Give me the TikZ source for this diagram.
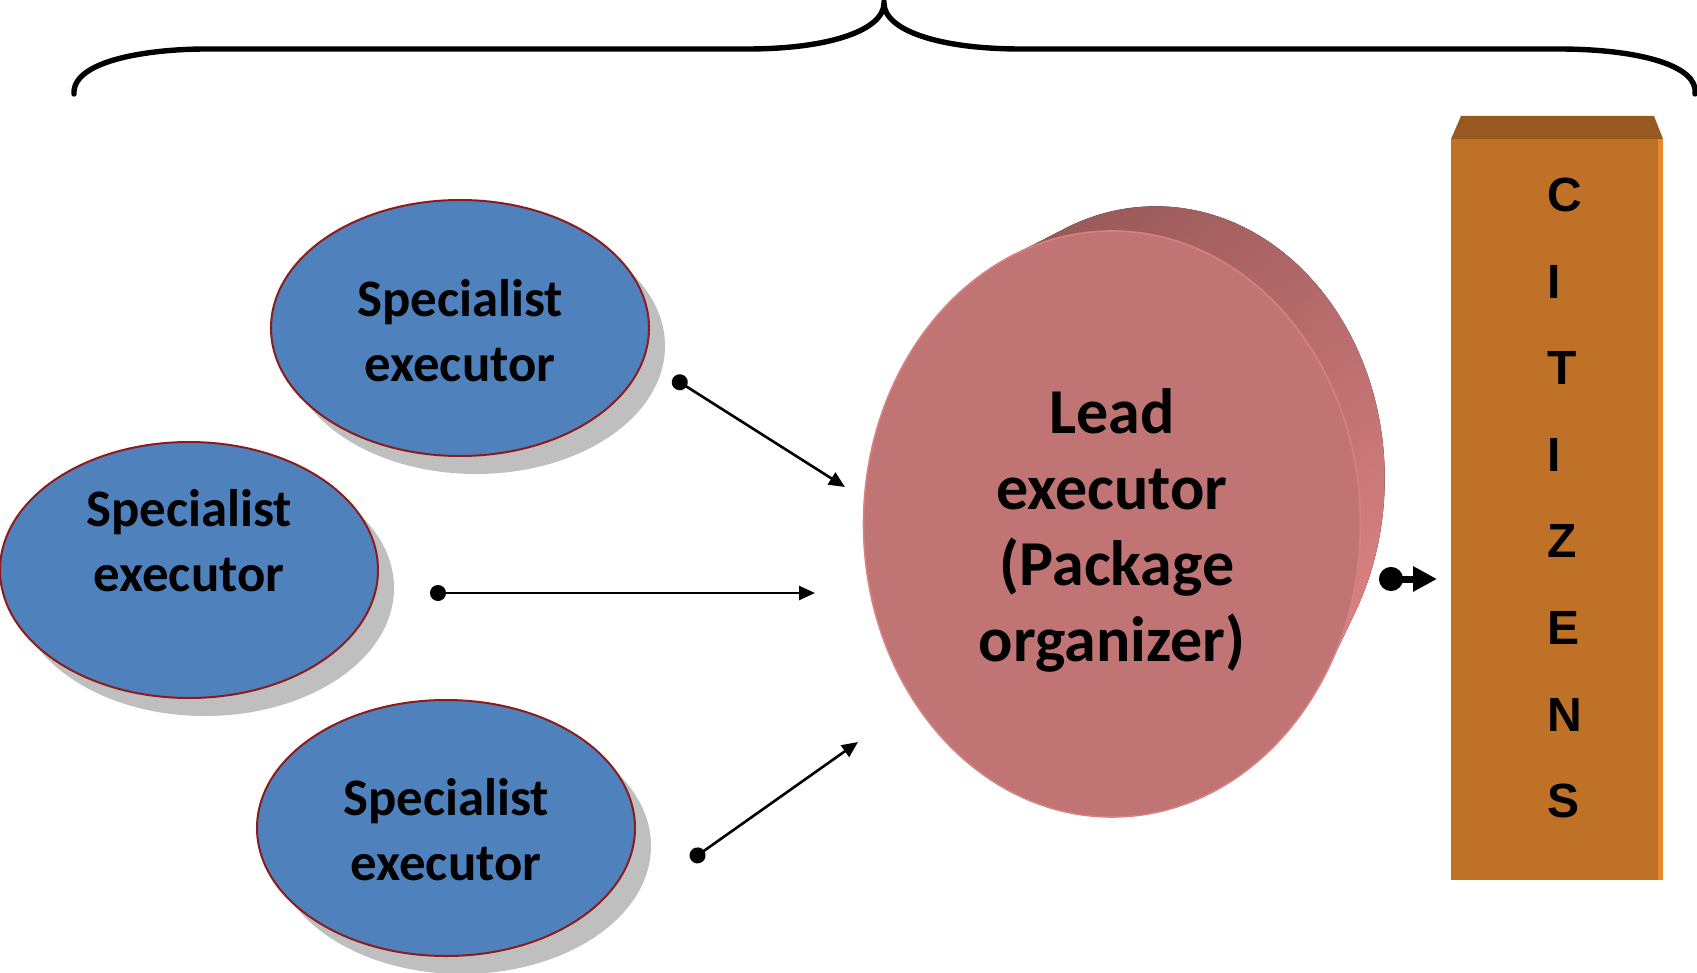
\documentclass[tikz,border=0pt]{standalone}
\usepackage{fontspec}
\setmainfont{Carlito}
\newfontfamily\citfont{Liberation Sans}
\usetikzlibrary{shapes.geometric,arrows.meta,shadows}
\definecolor{specblue}{HTML}{4F81BD}
\definecolor{rimred}{HTML}{8C1C1C}
\definecolor{leadface}{HTML}{C07474}
\definecolor{leaddark}{HTML}{985858}
\definecolor{leadlight}{HTML}{E28686}
\definecolor{citbox}{HTML}{C07128}
\definecolor{cittop}{HTML}{97591F}
\definecolor{citedge}{HTML}{E8892E}

\begin{document}
\begin{tikzpicture}[x=0.5pt,y=-0.5pt,
    specialist/.style={ellipse,draw=rimred,line width=1pt,fill=specblue,
      minimum width=189pt,minimum height=128pt,
      drop shadow={shadow xshift=8pt,shadow yshift=-9pt,fill=black!25,opacity=1}},
    spectext/.style={align=center,font=\bfseries\fontsize{26.4}{32.5}\selectfont},
    lead/.style={ellipse,fill=leadface,draw=leadlight!70!leadface,line width=0.8pt,
      minimum width=248.5pt,minimum height=293pt,inner sep=0pt,align=center,
      font=\bfseries\fontsize{32}{38}\selectfont},
    leadside/.style={shading=axis,top color=leaddark,bottom color=leadlight,shading angle=35},
    letter/.style={anchor=west,inner sep=0pt,font=\citfont\bfseries\fontsize{24}{28}\selectfont},
    feed/.style={line width=1.3pt,{Circle[length=8pt]}-{Triangle[length=8pt,width=7pt]}},
    tocitizens/.style={line width=3.5pt,{Circle[length=12pt]}-{Triangle[length=12pt,width=12pt]}}]
  \useasboundingbox (0,0) rectangle (1697,973);

  % brace over everything
  \draw[line width=2.7pt,line cap=round] (74,94) .. controls (72,60) and (150,49) .. (206,49)
    -- (747,49) .. controls (830,49) and (884,30) .. (884,3)
    .. controls (884,30) and (938,49) .. (1021,49)
    -- (1558,49) .. controls (1640,49) and (1699,66) .. (1695,94);

  % specialists
  \node[specialist] (spec1) at (460,328) {};
  \node[specialist] (spec2) at (189,570) {};
  \node[specialist] (spec3) at (446,828) {};
  \node[spectext] (spec1 text) at (460,331) {Specialist\\executor};
  \node[spectext] (spec2 text) at (189,541) {Specialist\\executor};
  \node[spectext] (spec3 text) at (446,830) {Specialist\\executor};

  % lead executor, a thick disc
  \fill[leadside] \foreach \t [evaluate=\t as \rx using 124.25-10.25*\t,
      evaluate=\t as \ry using 146.5-11*\t] in {0,0.05,...,1}
    {(1112+46*\t,524-48*\t) ellipse [x radius=\rx pt,y radius=\ry pt]};
  \node[lead] (lead) at (1112,524) {};
  \node[lead,draw=none,fill=none,minimum size=0pt] (lead text) at (1112,530)
    {Lead\\executor\\\hspace*{5pt}(Package\\organizer)};

  % citizens column
  \fill[cittop] (1461,116) -- (1654,116) -- (1663,139) -- (1451,139) -- cycle;
  \fill[citbox] (1451,139) rectangle (1663,880);
  \fill[citedge] (1658,139) rectangle (1663,880);
  \foreach \l [count=\i] in {C,I,T,I,Z,E,N,S}
    \node[letter] (cit\i) at (1547,195+86.6*\i-86.6) {\l};

  % connectors
  \coordinate (tail1) at (673,378);
  \coordinate (head1) at (845,487);
  \coordinate (tail2) at (430,593);
  \coordinate (head2) at (815,593);
  \coordinate (tail3) at (691,860);
  \coordinate (head3) at (858,742);
  \coordinate (tail4) at (1379,579);
  \coordinate (head4) at (1437,579);
  \draw[feed] (tail1) -- (head1);
  \draw[feed] (tail2) -- (head2);
  \draw[feed] (tail3) -- (head3);
  \draw[tocitizens] (tail4) -- (head4);
\end{tikzpicture}
\end{document}
